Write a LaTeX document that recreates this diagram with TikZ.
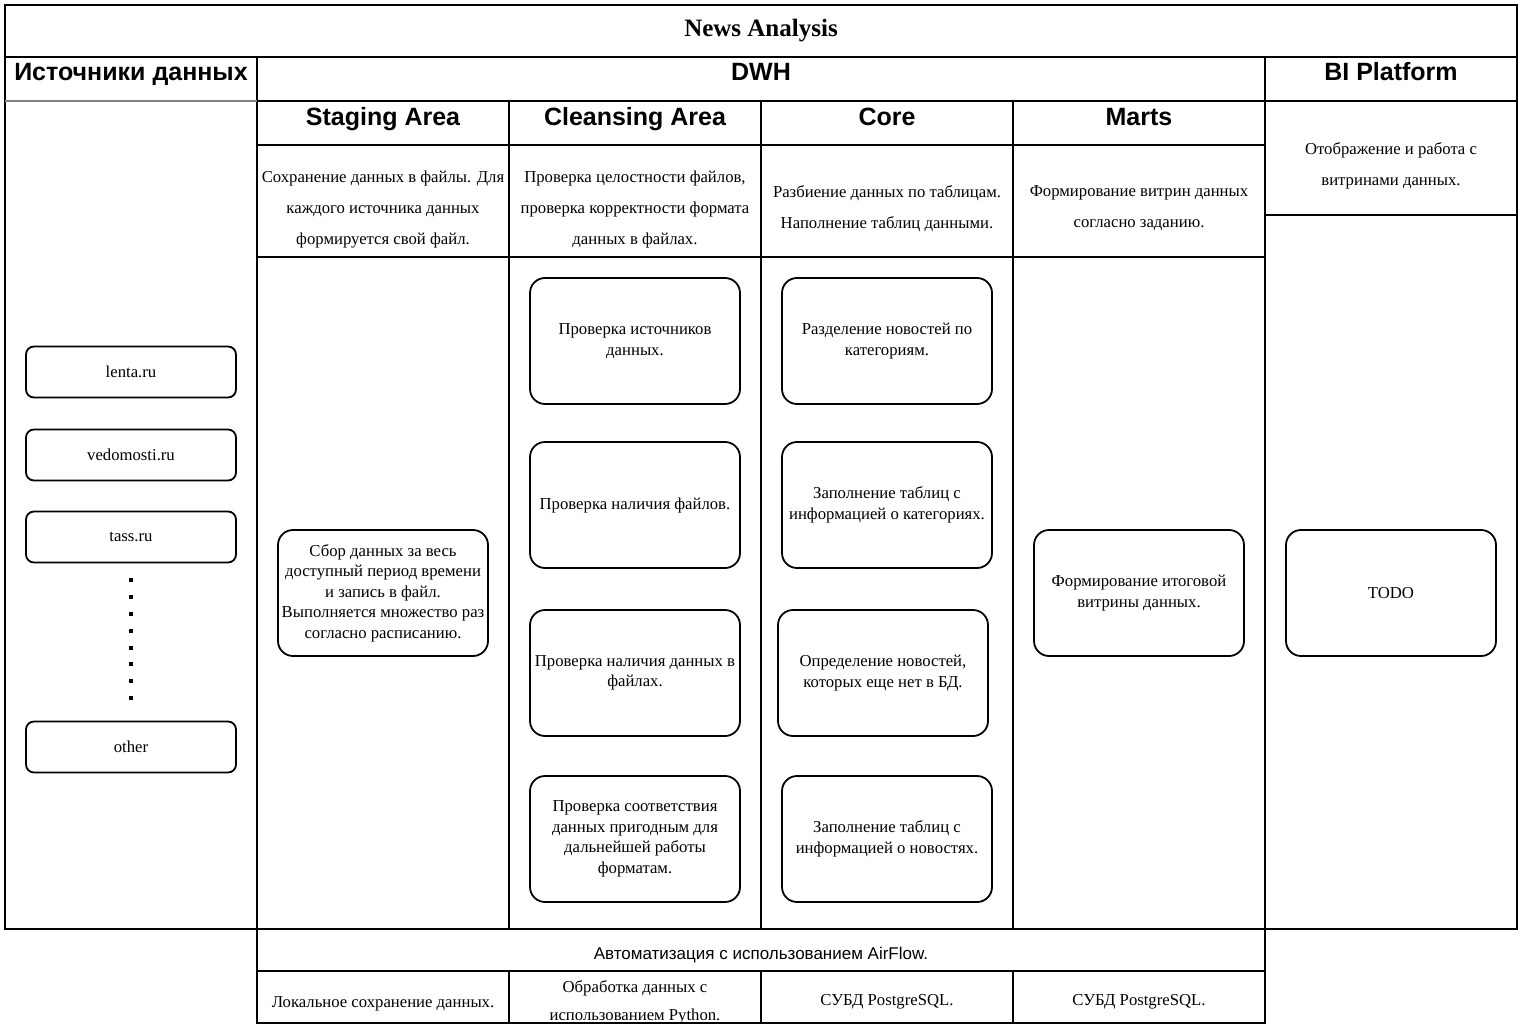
\documentclass[tikz,border=0pt]{standalone}
\usepackage{fontspec}
\setmainfont{Liberation Serif}
\newfontfamily\headfont{Liberation Sans}

\begin{document}
\begin{tikzpicture}[x=1pt, y=-1pt,
    grid/.style={line width=2pt},
    head/.style={anchor=base, font=\headfont\bfseries\fontsize{25}{27}\selectfont},
    desc/.style={align=center, yshift=-2.5pt, font=\fontsize{16.7}{31}\selectfont},
    src/.style={draw, line width=1.8pt, rounded corners=8pt, minimum width=210pt, minimum height=51pt, font=\fontsize{16.7}{20}\selectfont},
    task/.style={draw, line width=1.8pt, rounded corners=15pt, minimum width=210pt, minimum height=126pt, align=center, inner sep=1pt, font=\fontsize{16.7}{20.5}\selectfont},
    dot/.style={fill, inner sep=0pt, minimum size=3.5pt}]
                    \useasboundingbox (0,0) rectangle (1523,1030);
                    % Table
                    \draw[grid] (5,5) rectangle (1517,929);
                    \draw[grid] (5,57) -- (1517,57);
                    \draw[grid] (257,57) -- (257,929);
                    \draw[grid] (1265,57) -- (1265,929);
                    \draw[line width=2pt, gray] (5,101) -- (257,101);
                    \draw[grid] (257,101) -- (1517,101);
                    \draw[grid] (257,145) -- (1265,145);
                    \draw[grid] (257,257) -- (1265,257);
                    \draw[grid] (1265,215) -- (1517,215);
                    \draw[grid] (509,101) -- (509,929);
                    \draw[grid] (761,101) -- (761,929);
                    \draw[grid] (1013,101) -- (1013,929);
                    \draw[grid] (257,929) rectangle (1265,1023);
                    \draw[grid] (257,971) -- (1265,971);
                    \draw[grid] (509,971) -- (509,1023);
                    \draw[grid] (761,971) -- (761,1023);
                    \draw[grid] (1013,971) -- (1013,1023);
                    % Headers
                    \node[anchor=base, font=\bfseries\fontsize{25}{27}\selectfont] (title) at (761,37) {News Analysis};
                    \node[head] (sources) at (131,81) {Источники данных};
                    \node[head] (dwh) at (761,81) {DWH};
                    \node[head] (bi) at (1391,81) {BI Platform};
                    \node[head] (staging) at (383,125) {Staging Area};
                    \node[head] (cleansing) at (635,125) {Cleansing Area};
                    \node[head] (core) at (887,125) {Core};
                    \node[head] (marts) at (1139,125) {Marts};
                    % Descriptions
                    \node[desc] (stagingdesc) at (383,207) {Сохранение данных в файлы. Для\\каждого источника данных\\формируется свой файл.};
                    \node[desc] (cleansingdesc) at (635,207) {Проверка целостности файлов,\\проверка корректности формата\\данных в файлах.};
                    \node[desc] (coredesc) at (887,206) {Разбиение данных по таблицам.\\Наполнение таблиц данными.};
                    \node[desc] (martsdesc) at (1139,206) {Формирование витрин данных\\согласно заданию.};
                    \node[desc] (bidesc) at (1391,163) {Отображение и работа с\\витринами данных.};
                    % Sources
                    \node[src] (lenta) at (131,372) {lenta.ru};
                    \node[src] (vedomosti) at (131,455) {vedomosti.ru};
                    \node[src] (tass) at (131,537) {tass.ru};
                    \node[src] (other) at (131,747) {other};
                    \foreach \y in {580,597,614,631,648,664,681,698}
                        \node[dot] at (131,\y) {};
                    % Staging
                    \node[task] (collect) at (383,593) {Сбор данных за весь\\доступный период времени\\и запись в файл.\\Выполняется множество раз\\согласно расписанию.};
                    % Cleansing
                    \node[task] (chksrc) at (635,341) {Проверка источников\\данных.};
                    \node[task] (chkfiles) at (635,505) {Проверка наличия файлов.};
                    \node[task] (chkdata) at (635,673) {Проверка наличия данных в\\файлах.};
                    \node[task] (chkformat) at (635,839) {Проверка соответствия\\данных пригодным для\\дальнейшей работы\\форматам.};
                    % Core
                    \node[task] (split) at (887,341) {Разделение новостей по\\категориям.};
                    \node[task] (fillcat) at (887,505) {Заполнение таблиц с\\информацией о категориях.};
                    \node[task] (newnews) at (883,673) {Определение новостей,\\которых еще нет в БД.};
                    \node[task] (fillnews) at (887,839) {Заполнение таблиц с\\информацией о новостях.};
                    % Marts and BI
                    \node[task] (mart) at (1139,593) {Формирование итоговой\\витрины данных.};
                    \node[task] (todo) at (1391,593) {TODO};
                    % Bottom
                    \node[font=\headfont\fontsize{17}{20}\selectfont, yshift=-2pt] (airflow) at (761,953) {Автоматизация с использованием AirFlow.};
                    \node[desc] (local) at (383,1001) {Локальное сохранение данных.};
                    \node[desc, font=\fontsize{16.7}{28}\selectfont] (python) at (635,1000) {Обработка данных с\\использованием Python.};
                    \node[desc] (pg1) at (887,999) {СУБД PostgreSQL.};
                    \node[desc] (pg2) at (1139,999) {СУБД PostgreSQL.};
                \end{tikzpicture}
\end{document}
